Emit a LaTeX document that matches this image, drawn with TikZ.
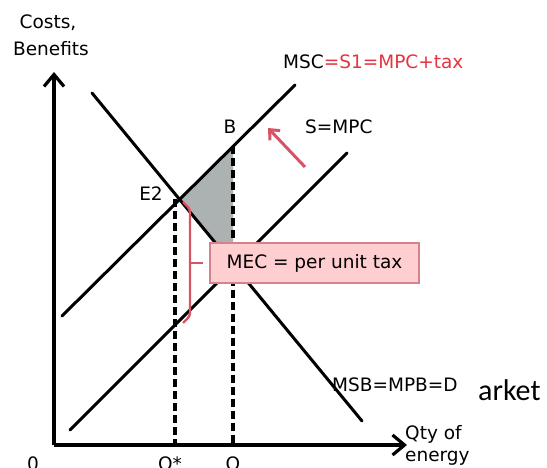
\documentclass[tikz,border=0pt]{standalone}
\usepackage{fontspec}
\setmainfont{DejaVu Sans}
\newfontfamily\calib{Carlito}
\usetikzlibrary{arrows.meta}
\definecolor{redtxt}{RGB}{228,52,64}
\definecolor{redarr}{RGB}{214,84,100}
\definecolor{boxfill}{RGB}{255,206,208}
\definecolor{boxedge}{RGB}{214,130,138}
\definecolor{shadegray}{RGB}{172,178,178}
\begin{document}
\begin{tikzpicture}[x=1pt,y=-1pt,
  curve/.style={line width=3pt,line cap=round},
  axisline/.style={line width=3.2pt,-{Straight Barb[length=12pt,width=20pt,line width=3.2pt]}},
  guide/.style={line width=3.2pt,dash pattern=on 8pt off 4pt},
  lbl/.style={inner sep=0pt,font=\fontsize{18.5}{22}\selectfont},
  redline/.style={draw=redarr,line width=2.4pt}]
\useasboundingbox (0,0) rectangle (547,468);
% key points
\coordinate (O) at (54,445);
\coordinate (Ytop) at (54,72);
\coordinate (Xend) at (407,445);
\coordinate (Dtop) at (92,93);
\coordinate (Dbot) at (362,421);
\coordinate (MSCa) at (62,316);
\coordinate (MSCb) at (295,85);
\coordinate (MPCa) at (70,430);
\coordinate (MPCb) at (347,153);
\coordinate (E2) at (179.6,199.4);
\coordinate (Bpt) at (233,146.5);
\coordinate (Dq) at (233,264.3);
\coordinate (Qs) at (175,445);
\coordinate (Qs top) at (175,199.4);
\coordinate (Q) at (233,445);
% shaded triangle
\fill[shadegray] (E2) -- (Bpt) -- (Dq) -- cycle;
% curves
\draw[curve] (Dtop) -- (Dbot);
\draw[curve] (MSCa) -- (MSCb);
\draw[curve] (MPCa) -- (MPCb);
% dashed guides
\draw[guide] (Qs top) -- (Qs);
\draw[guide] (Bpt) -- (Q);
% axes
\draw[axisline] (O) -- (Ytop);
\draw[axisline] (O) -- (Xend);
% box
\node[draw=boxedge,fill=boxfill,line width=1.2pt,minimum width=209pt,minimum height=40pt,inner sep=0pt,
      font=\fontsize{18.5}{22}\selectfont] (mec) at (314.5,263) {MEC = per unit tax};
% bracket
\coordinate (brt) at (183,202);
\coordinate (brb) at (183,323);
\draw[redline,rounded corners=3pt] (brt) -- (190,209) -- (190,316) -- (brb);
\draw[redline] (190,263) -- (mec.west -| 203,263);
% red arrow
\coordinate (ra1) at (305,167);
\coordinate (ra2) at (268,128);
\draw[draw=redarr,line width=3pt,-{Straight Barb[length=8pt,width=14pt,line width=3pt]}] (ra1) -- (ra2);
% labels
\node[lbl,anchor=base] (costs) at (48,29) {Costs,};
\node[lbl,anchor=base] (ben) at (51,56) {Benefits};
\node[lbl,anchor=base west] (msc) at (283,69) {MSC\textcolor{redtxt}{=S1=MPC+tax}};
\node[lbl,anchor=base] (B) at (230,134) {B};
\node[lbl,anchor=base west] (smpc) at (305,134) {S=MPC};
\node[lbl,anchor=base] (e2) at (151,201) {E2};
\node[lbl,anchor=base west] (msb) at (332,391) {MSB=MPB=D};
\node[lbl,anchor=base west] (qty) at (405,439) {Qty of};
\node[lbl,anchor=base west] (energy) at (405,461) {energy};
\node[lbl,anchor=base] (zero) at (33,470) {0};
\node[lbl,anchor=base] (qstar) at (170,470) {Q*};
\node[lbl,anchor=base] (qq) at (233,470) {Q};
\node[inner sep=0pt,anchor=base west,font=\calib\fontsize{30}{34}\selectfont] (arket) at (478,400) {arket};
\end{tikzpicture}
\end{document}
